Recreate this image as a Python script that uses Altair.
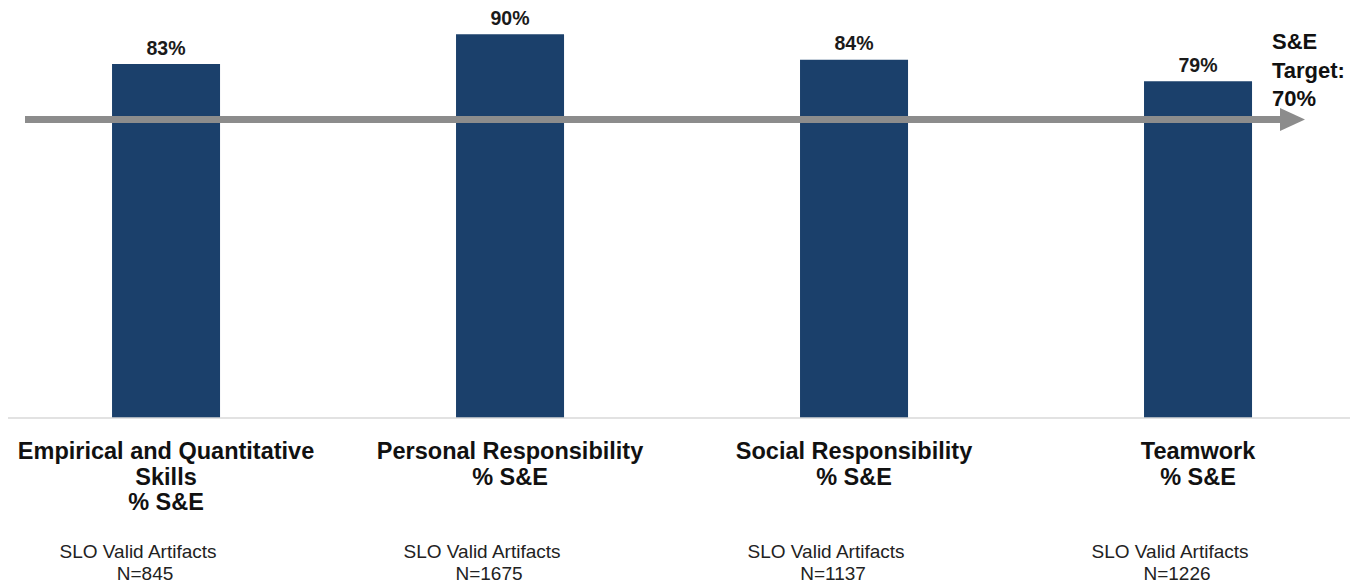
import altair as alt
import pandas as pd

# ---- data ----
categories = [
    "Empirical and Quantitative Skills",
    "Personal Responsibility",
    "Social Responsibility",
    "Teamwork",
]
category_labels = [
    "Empirical and Quantitative\nSkills\n% S&E",
    "Personal Responsibility\n% S&E",
    "Social Responsibility\n% S&E",
    "Teamwork\n% S&E",
]
pct_se = [83, 90, 84, 79]
n_artifacts = [845, 1675, 1137, 1226]
target_value = [70]
target_label = ["S&E\nTarget:\n70%"]

df = pd.DataFrame({
    "cat": categories,
    "label": category_labels,
    "pct": pct_se,
    "pct_text": [f"{v}%" for v in pct_se],
    "slo": ["SLO Valid Artifacts"] * len(categories),
    "n_text": [f"N={n}" for n in n_artifacts],
})
tdf = pd.DataFrame({"value": target_value, "label": target_label, "zero": [0]})

FONT = "Liberation Sans"
NAVY = "#1b406b"
GREY = "#8c8c8c"
W, H = 1342, 410

x_enc = alt.X("cat:N", sort=categories, axis=None,
              scale=alt.Scale(paddingInner=0.686, paddingOuter=0.2936, align=0.515))
y_scale = alt.Scale(domain=[0, 96.15], nice=False, zero=True)

base = alt.Chart(df)

bars = base.mark_bar(color=NAVY).encode(
    x=x_enc,
    y=alt.Y("pct:Q", scale=y_scale, axis=None),
)

values = base.mark_text(font=FONT, fontSize=19.5, fontWeight="bold", color="#1a1a1a",
                        baseline="alphabetic", dy=-9.5).encode(
    x=x_enc, y=alt.Y("pct:Q"), text="pct_text:N")

cat_text = base.mark_text(font=FONT, fontSize=23.5, fontWeight="bold", color="#111111",
                          baseline="alphabetic", lineBreak="\n", lineHeight=25.5).encode(
    x=x_enc, y=alt.value(451), text="label:N")

slo_text = base.mark_text(font=FONT, fontSize=19, color="#222222",
                          baseline="alphabetic", dx=-28).encode(
    x=x_enc, y=alt.value(549.5), text="slo:N")
n_text = base.mark_text(font=FONT, fontSize=19, color="#222222",
                        baseline="alphabetic", dx=-21).encode(
    x=x_enc, y=alt.value(571.5), text="n_text:N")

tbase = alt.Chart(tdf)
baseline_rule = tbase.mark_rule(color="#d9d9d9", strokeWidth=1.5).encode(
    y=alt.Y("zero:Q"), x=alt.value(0), x2=alt.value(W))
arrow_line = tbase.mark_rule(color=GREY, strokeWidth=7).encode(
    y=alt.Y("value:Q"), x=alt.value(17), x2=alt.value(1276))
arrow_head = tbase.mark_point(shape="M-1,-0.92L1,0L-1,0.92Z", filled=True, size=625,
                              color=GREY, opacity=1).encode(
    y=alt.Y("value:Q"), x=alt.value(1284.5))
target_text = tbase.mark_text(font=FONT, fontSize=22, fontWeight="bold", color="#111111",
                              align="left", baseline="alphabetic", lineBreak="\n",
                              lineHeight=28.5).encode(
    x=alt.value(1264), y=alt.value(41), text="label:N")

chart = alt.layer(
    bars, baseline_rule, arrow_line, arrow_head, values, cat_text, slo_text, n_text,
    target_text
).properties(
    width=W, height=H,
    autosize=alt.AutoSizeParams(type="none"),
    padding={"left": 0, "top": 0, "right": 0, "bottom": 166},
).configure_view(stroke=None)

chart.save("out.html", embed_options={"renderer": "svg", "actions": False})
